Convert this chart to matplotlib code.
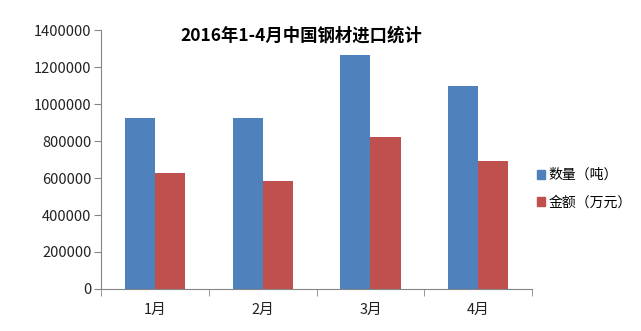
import numpy as np
import matplotlib
matplotlib.use('Agg')
import matplotlib.pyplot as plt
from matplotlib.patches import Patch

plt.rcParams['font.family'] = ['Noto Sans CJK SC', 'DejaVu Sans']

months = ['1月', '2月', '3月', '4月']
quantity = [924000, 924000, 1265000, 1097000]   # 数量（吨）
amount = [628000, 584000, 823000, 692000]       # 金额（万元）
series_names = ['数量（吨）', '金额（万元）']

blue = '#4f81bd'
red = '#c0504d'
axis_gray = '#868686'

fig = plt.figure(figsize=(6.41, 3.31), dpi=100)
ax = fig.add_axes([0.158, 0.127, 0.672, 0.782])

x = np.arange(len(months))
w = 0.28
ax.bar(x - w / 2, quantity, w, color=blue)
ax.bar(x + w / 2, amount, w, color=red)

ax.set_xlim(-0.5, len(months) - 0.5)
ax.set_ylim(0, 1400000)
ax.set_yticks(np.arange(0, 1400001, 200000))
ax.set_yticklabels([str(v) for v in range(0, 1400001, 200000)], fontsize=10.5, color='#222222')

# category labels centered, tick marks between categories
ax.set_xticks(x)
ax.set_xticklabels(months, fontsize=10.5, color='#222222')
ax.tick_params(axis='x', length=0, pad=10)
ax.set_xticks(np.arange(-0.5, len(months)), minor=True)
ax.tick_params(axis='x', which='minor', length=5, color=axis_gray, direction='out')
ax.tick_params(axis='y', length=5, color=axis_gray, pad=2)

for s in ['top', 'right']:
    ax.spines[s].set_visible(False)
for s in ['left', 'bottom']:
    ax.spines[s].set_color(axis_gray)

fig.text(0.47, 0.893, '2016年1-4月中国钢材进口统计', fontsize=12.5, fontweight='bold',
         ha='center', va='center')

handles = [Patch(color=blue), Patch(color=red)]
fig.legend(handles, series_names, loc='center left', bbox_to_anchor=(0.818, 0.43),
           frameon=False, fontsize=10, handlelength=0.6, handleheight=0.6,
           handletextpad=0.25, labelspacing=0.95)

fig.savefig('out.png', dpi=100)
